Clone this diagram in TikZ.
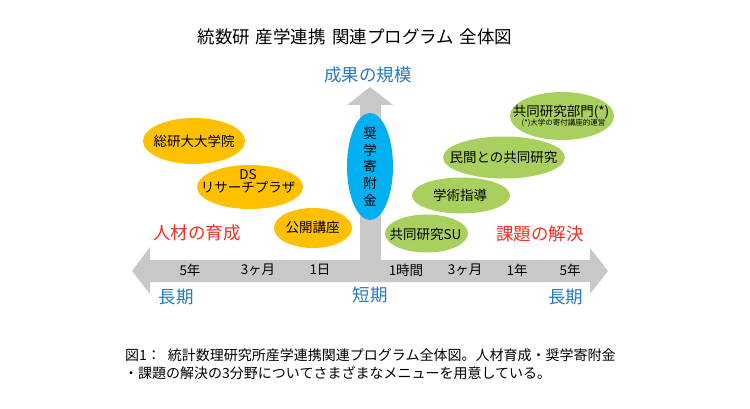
\documentclass[tikz,border=0pt]{standalone}
\usepackage{fontspec}
\setmainfont{Noto Sans CJK JP}
\usetikzlibrary{shapes.geometric}
\definecolor{arrowgray}{HTML}{C8C8C8}
\definecolor{yel}{HTML}{FFC000}
\definecolor{grn}{HTML}{A9D05F}
\definecolor{cyn}{HTML}{00B0F0}
\definecolor{bluetxt}{HTML}{2B78C5}
\definecolor{redtxt}{HTML}{EE3124}
\begin{document}
\begin{tikzpicture}[x=1pt,y=-1pt,
  yellipse/.style={ellipse, fill=yel, inner sep=0pt},
  gellipse/.style={ellipse, fill=grn, inner sep=0pt},
  cellipse/.style={ellipse, fill=cyn, inner sep=0pt},
  lbl/.style={font=\fontsize{13.5}{14}\selectfont, text=black, inner sep=0pt, align=center},
  axislbl/.style={font=\fontsize{13.5}{16}\selectfont, text=black, inner sep=0pt},
  bluelbl/.style={font=\fontsize{17.5}{20}\selectfont, text=bluetxt, inner sep=0pt},
  redlbl/.style={font=\fontsize{17.5}{20}\selectfont, text=redtxt, inner sep=0pt},
  titlelbl/.style={font=\fontsize{17.5}{20}\selectfont, text=black, inner sep=0pt},
  caplbl/.style={font=\fontsize{14}{18}\selectfont, text=black, inner sep=0pt, anchor=west}]
\useasboundingbox (0,0) rectangle (750,409);
\fill[white] (0,0) rectangle (750,409);

% arrows (axis shapes)
\fill[arrowgray] (132,271) -- (150,247) -- (150,260) -- (360,260) -- (360,105) -- (347,105)
  -- (370,87) -- (393,105) -- (381,105) -- (381,260) -- (590,260) -- (590,248)
  -- (608,271) -- (590,294) -- (590,282) -- (150,282) -- (150,294) -- cycle;

% title
\node[titlelbl] (title) at (355,37) {統数研\hspace{6pt}産学連携\hspace{6pt}関連プログラム\hspace{6pt}全体図};
\node[bluelbl] (scale) at (368,75) {成果の規模};

% yellow ellipses
\node[yellipse, minimum width=102pt, minimum height=46pt] (sokenE) at (194,141) {};
\node[lbl] (soken) at (194,141) {総研大大学院};
\node[yellipse, minimum width=106pt, minimum height=44pt] (dsE) at (250,187) {};
\node[lbl, font=\fontsize{13.5}{13.5}\selectfont] (ds) at (248,181.5) {DS\\リサーチプラザ};
\node[yellipse, minimum width=78pt, minimum height=40pt] (koukaiE) at (313,228) {};
\node[lbl] (koukai) at (312.5,227) {公開講座};

% blue ellipse
\node[cellipse, minimum width=46pt, minimum height=107pt] (kifuE) at (370,166.5) {};
\node[lbl, font=\fontsize{13.5}{16.75}\selectfont] (kifu) at (370,166.5) {奨\\学\\寄\\附\\金};

% green ellipses
\node[gellipse, minimum width=104pt, minimum height=48pt] (bumonE) at (562,116) {};
\node[lbl] (bumon) at (561,112) {共同研究部門(*)};
\node[lbl, font=\fontsize{7.5}{9}\selectfont] (bumonNote) at (563.5,123.5) {(*)大学の寄付講座的運営};
\node[gellipse, minimum width=122pt, minimum height=42pt] (minkanE) at (504,157.5) {};
\node[lbl] (minkan) at (503.5,157) {民間との共同研究};
\node[gellipse, minimum width=98pt, minimum height=36pt] (gakuE) at (461,195.5) {};
\node[lbl] (gaku) at (460,195) {学術指導};
\node[gellipse, minimum width=83pt, minimum height=38pt] (suE) at (426.5,233.5) {};
\node[lbl] (su) at (425.5,234) {共同研究SU};

% category labels
\node[redlbl] (jinzai) at (197,233) {人材の育成};
\node[redlbl] (kadai) at (540,234) {課題の解決};

% axis labels
\node[axislbl] (l5y) at (190,270) {5年};
\node[axislbl] (l3m) at (258,270) {3ヶ月};
\node[axislbl] (l1d) at (320,270) {1日};
\node[axislbl] (r1h) at (406,270) {1時間};
\node[axislbl] (r3m) at (465,270) {3ヶ月};
\node[axislbl] (r1y) at (517,270) {1年};
\node[axislbl] (r5y) at (570,270) {5年};

\node[bluelbl] (longL) at (176,297) {長期};
\node[bluelbl] (short) at (370,295) {短期};
\node[bluelbl] (longR) at (565.5,297) {長期};

% caption
\node[caplbl] (cap1) at (125,355) {図1：\hspace{7pt}統計数理研究所産学連携関連プログラム全体図。人材育成・奨学寄附金};
\node[caplbl] (cap2) at (124,373) {・課題の解決の3分野についてさまざまなメニューを用意している。};
\end{tikzpicture}
\end{document}
